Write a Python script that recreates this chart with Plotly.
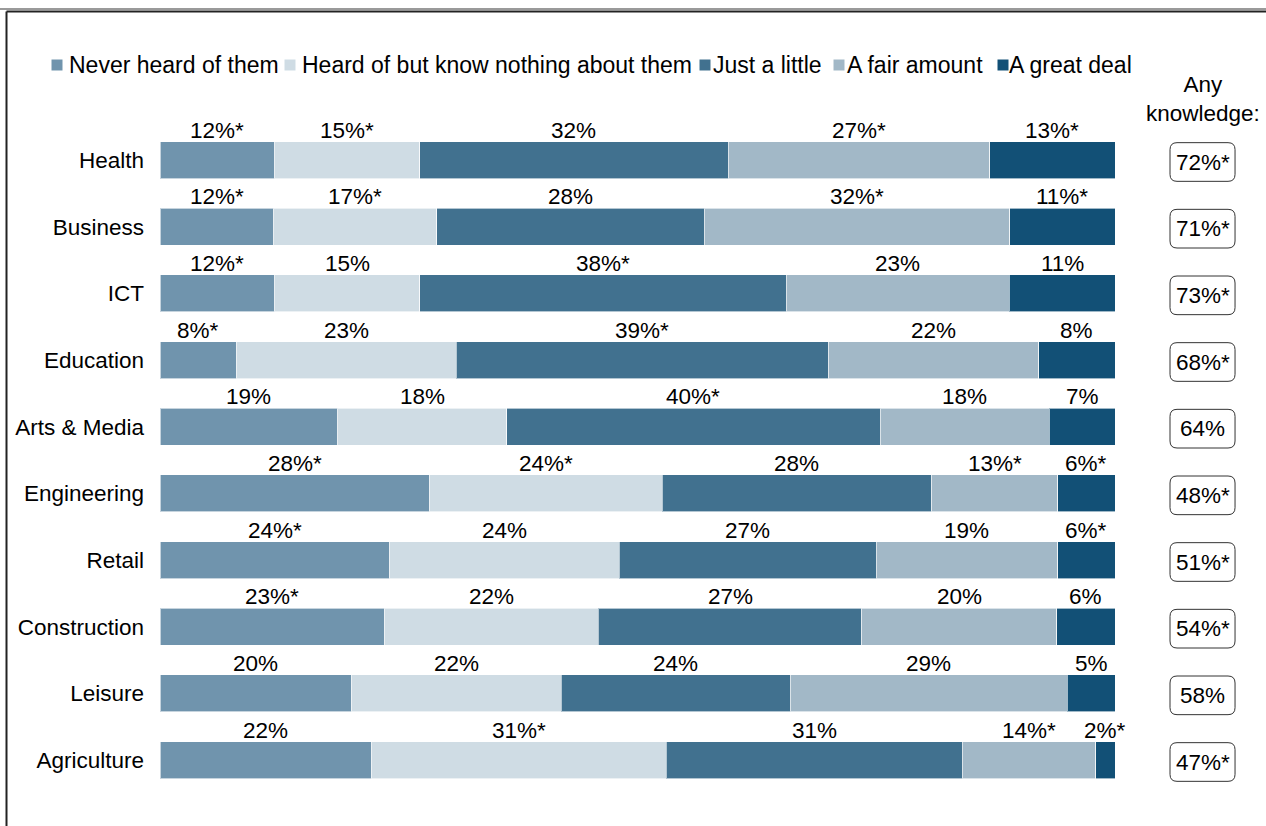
import plotly.graph_objects as go

categories = ["Health", "Business", "ICT", "Education", "Arts & Media",
              "Engineering", "Retail", "Construction", "Leisure", "Agriculture"]

series_names = ["Never heard of them", "Heard of but know nothing about them",
                "Just a little", "A fair amount", "A great deal"]

never_heard = [12.0, 11.9, 12.0, 8.0, 18.6, 28.2, 24.0, 23.5, 20.0, 22.1]
heard_nothing = [15.2, 17.1, 15.2, 23.0, 17.7, 24.4, 24.1, 22.4, 22.0, 30.9]
just_a_little = [32.3, 28.0, 38.4, 39.0, 39.1, 28.2, 26.9, 27.6, 24.0, 31.0]
fair_amount = [27.4, 32.0, 23.3, 22.0, 17.7, 13.2, 19.0, 20.4, 29.0, 14.0]
great_deal = [13.1, 11.0, 11.1, 8.0, 6.9, 6.0, 6.0, 6.1, 5.0, 2.0]

never_heard_labels = ["12%*", "12%*", "12%*", "8%*", "19%", "28%*", "24%*", "23%*", "20%", "22%"]
heard_nothing_labels = ["15%*", "17%*", "15%", "23%", "18%", "24%*", "24%", "22%", "22%", "31%*"]
just_a_little_labels = ["32%", "28%", "38%*", "39%*", "40%*", "28%", "27%", "27%", "24%", "31%"]
fair_amount_labels = ["27%*", "32%*", "23%", "22%", "18%", "13%*", "19%", "20%", "29%", "14%*"]
great_deal_labels = ["13%*", "11%*", "11%", "8%", "7%", "6%*", "6%*", "6%", "5%", "2%*"]

any_knowledge = ["72%*", "71%*", "73%*", "68%*", "64%", "48%*", "51%*", "54%*", "58%", "47%*"]

colors = ["#7094ad", "#cfdce4", "#41718f", "#a2b8c7", "#125076"]

FONT = "Arial, Liberation Sans, sans-serif"
FS = 22.5
FS_LEG = 23

values = [never_heard, heard_nothing, just_a_little, fair_amount, great_deal]
labels = [never_heard_labels, heard_nothing_labels, just_a_little_labels,
          fair_amount_labels, great_deal_labels]
ypos = list(range(len(categories)))

fig = go.Figure()
for name, vals, col in zip(series_names, values, colors):
    fig.add_trace(go.Bar(
        x=vals, y=ypos, name=name, orientation="h",
        marker=dict(color=col, line=dict(color="rgba(255,255,255,0.6)", width=1)),
        showlegend=False, hoverinfo="x+name",
    ))

annotations = []
# segment labels above each segment
for i in ypos:
    cum = 0.0
    for s in range(len(values)):
        v = values[s][i]
        annotations.append(dict(
            x=cum + v / 2, y=i, xref="x", yref="y", text=labels[s][i],
            showarrow=False, yshift=30, xanchor="center", yanchor="middle",
            font=dict(family=FONT, size=FS, color="#000000"),
        ))
        cum += v

# Any knowledge column
box_x0, box_x1 = 1.0576, 1.1257
rx = 7 / 955
ry = 7 / 66.67
shapes = []
for i in ypos:
    y0 = i - 0.29 + 0.03
    y1 = i + 0.29 + 0.03
    path = (f"M {box_x0 + rx},{y0} L {box_x1 - rx},{y0} Q {box_x1},{y0} {box_x1},{y0 + ry} "
            f"L {box_x1},{y1 - ry} Q {box_x1},{y1} {box_x1 - rx},{y1} "
            f"L {box_x0 + rx},{y1} Q {box_x0},{y1} {box_x0},{y1 - ry} "
            f"L {box_x0},{y0 + ry} Q {box_x0},{y0} {box_x0 + rx},{y0} Z")
    shapes.append(dict(type="path", path=path, xref="paper", yref="y",
                       line=dict(color="#333333", width=1), fillcolor="rgba(0,0,0,0)"))
    annotations.append(dict(
        x=(box_x0 + box_x1) / 2, y=i + 0.03, xref="paper", yref="y", text=any_knowledge[i],
        showarrow=False, xanchor="center", yanchor="middle",
        font=dict(family=FONT, size=FS, color="#000000"),
    ))

annotations.append(dict(
    x=(box_x0 + box_x1) / 2, y=-0.92, xref="paper", yref="y",
    text="Any<br>knowledge:", showarrow=False, xanchor="center", yanchor="middle",
    font=dict(family=FONT, size=FS, color="#000000"),
))

# manual legend
legend_marker_px = [57, 290, 705, 839, 1003]
legend_text_px = [69, 302, 713, 847, 1009]
leg_y = (813 - 65) / 720
for name, col, mx, tx in zip(series_names, colors, legend_marker_px, legend_text_px):
    mxp = (mx - 160) / 955
    half = 5.5 / 955
    halfy = 5.5 / 720
    shapes.append(dict(type="rect", xref="paper", yref="paper",
                       x0=mxp - half, x1=mxp + half, y0=leg_y - halfy, y1=leg_y + halfy,
                       fillcolor=col, line=dict(width=0)))
    annotations.append(dict(
        x=(tx - 160) / 955, y=leg_y, xref="paper", yref="paper", text=name,
        xanchor="left", yanchor="middle", showarrow=False, xshift=-2,
        font=dict(family=FONT, size=FS_LEG, color="#000000"),
    ))

# frame lines
shapes.append(dict(type="line", xref="paper", yref="paper",
                   x0=-0.2, x1=1.2, y0=(813 - 9) / 720, y1=(813 - 9) / 720,
                   line=dict(color="#9a9a9a", width=2)))
shapes.append(dict(type="line", xref="paper", yref="paper",
                   x0=(6.5 - 160) / 955, x1=1.2, y0=(813 - 11.5) / 720, y1=(813 - 11.5) / 720,
                   line=dict(color="#222222", width=2)))
shapes.append(dict(type="line", xref="paper", yref="paper",
                   x0=(6.5 - 160) / 955, x1=(6.5 - 160) / 955, y0=-0.05, y1=(813 - 11.5) / 720,
                   line=dict(color="#222222", width=2)))

fig.update_layout(
    width=1266, height=826,
    margin=dict(l=160, r=151, t=93, b=13),
    barmode="stack", bargap=0.445,
    paper_bgcolor="white", plot_bgcolor="white",
    xaxis=dict(range=[0, 100], visible=False, fixedrange=True),
    yaxis=dict(range=[9.795, -1.005], tickvals=ypos, ticktext=categories,
               ticks="", showgrid=False, zeroline=False, showline=False,
               ticklabelstandoff=15, fixedrange=True,
               tickfont=dict(family=FONT, size=FS, color="#000000")),
    annotations=annotations, shapes=shapes,
    font=dict(family=FONT, size=FS, color="#000000"),
)

fig.write_html("out.html", config={"displayModeBar": False},
               post_script="document.body.style.margin='0';document.body.style.overflow='hidden';")
